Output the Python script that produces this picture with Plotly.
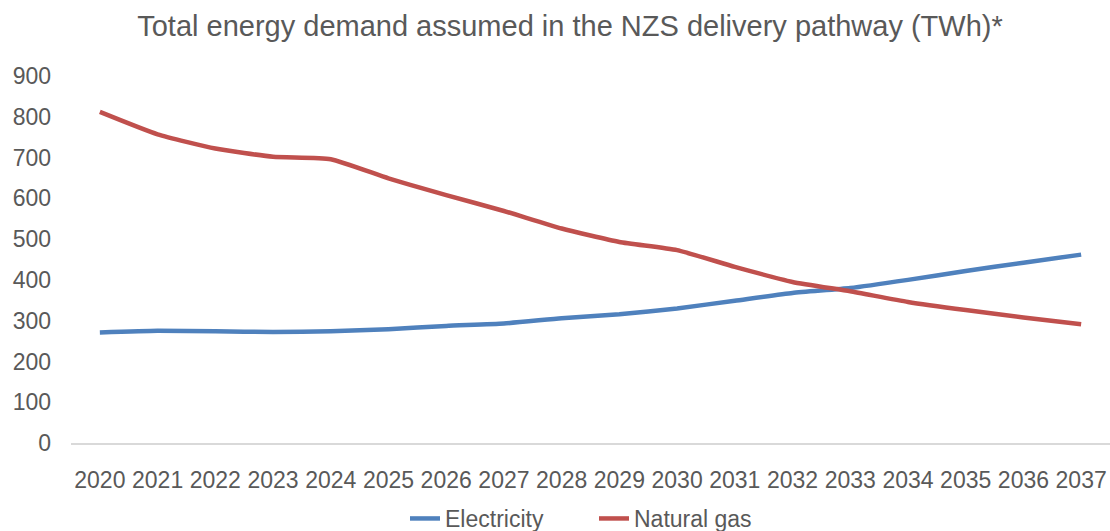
import plotly.graph_objects as go

years = [str(y) for y in range(2020, 2038)]
electricity = [271, 275, 274, 272, 274, 279, 287, 293, 306, 316, 330, 349, 368, 380, 400, 422, 442, 462]
natural_gas = [812, 757, 722, 702, 696, 649, 608, 569, 526, 493, 473, 432, 395, 372, 346, 326, 308, 291]

y_ticks = [0, 100, 200, 300, 400, 500, 600, 700, 800, 900]

FONT = "Liberation Sans, Arial, sans-serif"
GREY = "#595959"

fig = go.Figure()
fig.add_trace(go.Scatter(x=years, y=electricity, name="Electricity", mode="lines",
                         line=dict(color="#4F81BD", width=4.5, shape="spline", smoothing=0.5)))
fig.add_trace(go.Scatter(x=years, y=natural_gas, name="Natural gas", mode="lines",
                         line=dict(color="#C0504D", width=4.5, shape="spline", smoothing=0.5)))

fig.update_layout(
    width=1110, height=531,
    margin=dict(l=71, r=0, t=76, b=88, autoexpand=False),
    paper_bgcolor="white", plot_bgcolor="white",
    font=dict(family=FONT, color=GREY, size=23),
    title=dict(text="Total energy demand assumed in the NZS delivery pathway (TWh)*",
               x=570/1110, xanchor="center", xref="container",
               y=1 - 26/531, yanchor="middle", yref="container",
               font=dict(size=29, color=GREY, family=FONT)),
    showlegend=True,
    legend=dict(orientation="h", x=405/1110, xanchor="left", xref="container",
                y=1 - 497/531, yanchor="top", yref="container",
                font=dict(size=23, color=GREY, family=FONT),
                entrywidth=144, entrywidthmode="pixels", bgcolor="rgba(0,0,0,0)"),
    xaxis=dict(type="category", range=[-0.5, 17.5], showgrid=False, showline=True,
               linecolor="#D9D9D9", linewidth=1.5, ticks="", ticklabelstandoff=16,
               tickfont=dict(size=23, color=GREY), zeroline=False),
    yaxis=dict(range=[0, 900], tickvals=y_ticks, showgrid=False, showline=False,
               zeroline=False, ticks="", ticklabelstandoff=19,
               tickfont=dict(size=23, color=GREY)),
)

fig.write_html("out.html")
